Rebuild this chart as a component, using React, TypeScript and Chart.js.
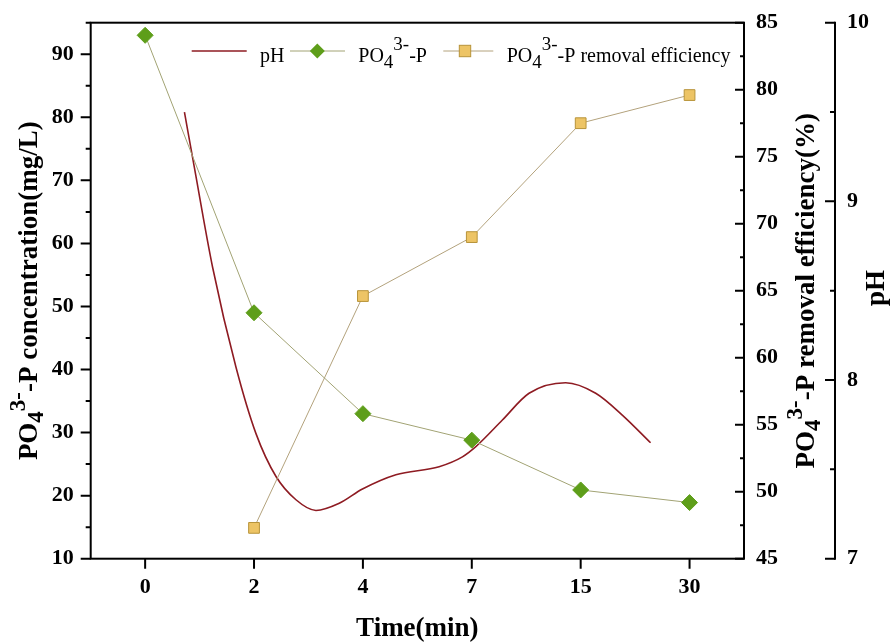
import React, { useEffect, useRef } from "react";
import { Chart, registerables } from "chart.js";

Chart.register(...registerables);

// ---- data ----
const timeLabels = ["0", "2", "4", "7", "15", "30"];
const po4Concentration = [93, 49, 33, 28.8, 20.9, 18.9];
const removalEfficiency = [null, 47.3, 64.6, 69.0, 77.5, 79.6];
// pH curve samples (x in category-index units, y = pH)
const phX = [0.361, 0.452, 0.62, 0.835, 1.018, 1.202, 1.385, 1.569, 1.783, 1.996, 2.303, 2.7, 2.914, 3.037, 3.281, 3.526, 3.862, 4.138, 4.382, 4.642];
const phY = [9.5, 9.19, 8.63, 8.07, 7.7, 7.46, 7.33, 7.27, 7.31, 7.39, 7.47, 7.515, 7.57, 7.627, 7.776, 7.926, 7.985, 7.926, 7.804, 7.649];

const FAMILY = '"Liberation Serif", "Times New Roman", serif';
const PH_COLOR = "#8E1B22";
const PO4_LINE = "#A2A374";
const PO4_FILL = "#5E9E1A";
const EFF_LINE = "#B3A27C";
const EFF_FILL = "#EDC465";
const EFF_BORDER = "#B8943A";

type Seg = { t: string; s: number; dy: number };

function segWidth(ctx: CanvasRenderingContext2D, segs: Seg[], weight: string) {
  let w = 0;
  for (const g of segs) {
    ctx.font = `${weight} ${g.s}px ${FAMILY}`;
    w += ctx.measureText(g.t).width;
  }
  return w;
}

function drawSegs(ctx: CanvasRenderingContext2D, segs: Seg[], x: number, y: number, weight: string) {
  let cx = x;
  ctx.textBaseline = "alphabetic";
  ctx.textAlign = "left";
  for (const g of segs) {
    ctx.font = `${weight} ${g.s}px ${FAMILY}`;
    ctx.fillText(g.t, cx, y + g.dy);
    cx += ctx.measureText(g.t).width;
  }
}

function drawRotatedTitle(ctx: CanvasRenderingContext2D, segs: Seg[], baseX: number, centerY: number) {
  ctx.save();
  ctx.translate(baseX, centerY);
  ctx.rotate(-Math.PI / 2);
  const w = segWidth(ctx, segs, "bold");
  drawSegs(ctx, segs, -w / 2, 0, "bold");
  ctx.restore();
}

function range(a: number, b: number, step: number) {
  const out: number[] = [];
  for (let v = a; v <= b + 1e-9; v += step) out.push(Math.round(v * 1000) / 1000);
  return out;
}

function noPad(s: any) {
  s.paddingTop = 0;
  s.paddingBottom = 0;
  s.paddingLeft = 0;
  s.paddingRight = 0;
}

const decorPlugin = {
  id: "decor",
  afterDraw(chart: any) {
    const ctx: CanvasRenderingContext2D = chart.ctx;
    const ca = chart.chartArea;
    const sx = chart.scales.x;
    const sy = chart.scales.y;
    const se = chart.scales.yEff;
    const sp = chart.scales.yPH;
    ctx.save();
    ctx.strokeStyle = "#000";
    ctx.lineWidth = 2;
    ctx.lineCap = "butt";
    // frame
    ctx.strokeRect(ca.left, ca.top, ca.right - ca.left, ca.bottom - ca.top);
    // pH axis line
    const px = sp.left;
    ctx.beginPath();
    ctx.moveTo(px, ca.top - 1);
    ctx.lineTo(px, ca.bottom + 1);
    ctx.stroke();

    ctx.beginPath();
    // left ticks
    for (const v of range(10, 95, 5)) {
      const y = sy.getPixelForValue(v);
      const len = v % 10 === 0 ? 10 : 5;
      ctx.moveTo(ca.left - len, y);
      ctx.lineTo(ca.left, y);
    }
    // bottom ticks
    for (let i = 0; i < timeLabels.length; i++) {
      const x = sx.getPixelForValue(i);
      ctx.moveTo(x, ca.bottom);
      ctx.lineTo(x, ca.bottom + 10);
    }
    // efficiency ticks (inward)
    for (const v of range(45, 85, 2.5)) {
      const y = se.getPixelForValue(v);
      const len = v % 5 === 0 ? 9 : 4;
      ctx.moveTo(ca.right - len, y);
      ctx.lineTo(ca.right, y);
    }
    // pH ticks (to the left)
    for (const v of range(7, 10, 0.5)) {
      const y = sp.getPixelForValue(v);
      const len = v % 1 === 0 ? 10 : 5;
      ctx.moveTo(px - len, y);
      ctx.lineTo(px, y);
    }
    ctx.stroke();

    // titles
    ctx.fillStyle = "#000";
    const T = 27;
    const S = 23;
    drawRotatedTitle(
      ctx,
      [
        { t: "PO", s: T, dy: 0 },
        { t: "4", s: S, dy: 6 },
        { t: "3-", s: S, dy: -12 },
        { t: "-P concentration(mg/L)", s: T, dy: 0 },
      ],
      37,
      (ca.top + ca.bottom) / 2
    );
    drawRotatedTitle(
      ctx,
      [
        { t: "PO", s: T, dy: 0 },
        { t: "4", s: S, dy: 6 },
        { t: "3-", s: S, dy: -12 },
        { t: "-P removal efficiency(%)", s: T, dy: 0 },
      ],
      814,
      (ca.top + ca.bottom) / 2
    );
    drawRotatedTitle(ctx, [{ t: "pH", s: T, dy: 0 }], 884, 288);
    {
      const segs = [{ t: "Time(min)", s: T, dy: 0 }];
      const w = segWidth(ctx, segs, "bold");
      drawSegs(ctx, segs, (ca.left + ca.right) / 2 - w / 2, 636, "bold");
    }

    // legend
    const ly = 51;
    const tb = 61.7;
    const L = 20;
    const LS = 19;
    // pH
    ctx.strokeStyle = PH_COLOR;
    ctx.lineWidth = 1.6;
    ctx.beginPath();
    ctx.moveTo(191.7, ly);
    ctx.lineTo(246.7, ly);
    ctx.stroke();
    drawSegs(ctx, [{ t: "pH", s: L, dy: 0 }], 260, tb, "normal");
    // PO4
    ctx.strokeStyle = PO4_LINE;
    ctx.lineWidth = 1;
    ctx.beginPath();
    ctx.moveTo(290, ly);
    ctx.lineTo(345, ly);
    ctx.stroke();
    ctx.fillStyle = PO4_FILL;
    ctx.beginPath();
    const dx = 317.3;
    ctx.moveTo(dx - 7.5, ly);
    ctx.lineTo(dx, ly - 7.5);
    ctx.lineTo(dx + 7.5, ly);
    ctx.lineTo(dx, ly + 7.5);
    ctx.closePath();
    ctx.fill();
    ctx.fillStyle = "#000";
    drawSegs(
      ctx,
      [
        { t: "PO", s: L, dy: 0 },
        { t: "4", s: LS, dy: 6.5 },
        { t: "3-", s: LS, dy: -11.5 },
        { t: "-P", s: L, dy: 0 },
      ],
      358.3,
      tb,
      "normal"
    );
    // efficiency
    ctx.strokeStyle = EFF_LINE;
    ctx.lineWidth = 1;
    ctx.beginPath();
    ctx.moveTo(443.3, ly);
    ctx.lineTo(493.3, ly);
    ctx.stroke();
    ctx.fillStyle = EFF_FILL;
    ctx.strokeStyle = EFF_BORDER;
    ctx.fillRect(465 - 5.7, ly - 5.7, 11.4, 11.4);
    ctx.strokeRect(465 - 5.7, ly - 5.7, 11.4, 11.4);
    ctx.fillStyle = "#000";
    drawSegs(
      ctx,
      [
        { t: "PO", s: L, dy: 0 },
        { t: "4", s: LS, dy: 6.5 },
        { t: "3-", s: LS, dy: -11.5 },
        { t: "-P removal efficiency", s: L, dy: 0 },
      ],
      506.7,
      tb,
      "normal"
    );
    ctx.restore();
  },
};

const tickFont = { family: FAMILY, size: 22, weight: "bold" as const };

export default function App() {
  const ref = useRef<HTMLCanvasElement | null>(null);
  useEffect(() => {
    if (!ref.current) return;
    const po4Data = po4Concentration.map((y, i) => ({ x: i, y }));
    const effData = removalEfficiency
      .map((y, i) => ({ x: i, y }))
      .filter((p) => p.y !== null) as { x: number; y: number }[];
    const phData = phX.map((x, i) => ({ x, y: phY[i] }));
    const chart = new Chart(ref.current, {
      type: "line",
      data: {
        datasets: [
          {
            label: "PO4",
            data: po4Data,
            yAxisID: "y",
            borderColor: PO4_LINE,
            borderWidth: 1,
            pointStyle: "rectRot",
            pointRadius: 8,
            pointBackgroundColor: PO4_FILL,
            pointBorderColor: PO4_FILL,
            pointBorderWidth: 1,
            fill: false,
            tension: 0,
          },
          {
            label: "eff",
            data: effData,
            yAxisID: "yEff",
            borderColor: EFF_LINE,
            borderWidth: 1,
            pointStyle: "rect",
            pointRadius: 7.6,
            pointBackgroundColor: EFF_FILL,
            pointBorderColor: EFF_BORDER,
            pointBorderWidth: 1,
            fill: false,
            tension: 0,
          },
          {
            label: "pH",
            data: phData,
            yAxisID: "yPH",
            borderColor: PH_COLOR,
            borderWidth: 1.6,
            pointRadius: 0,
            cubicInterpolationMode: "monotone",
            fill: false,
          },
        ] as any,
      },
      options: {
        animation: false,
        responsive: false,
        maintainAspectRatio: false,
        layout: { padding: { top: 22.7, left: 0, right: 0, bottom: 0 } },
        plugins: { legend: { display: false }, tooltip: { enabled: false } },
        scales: {
          x: {
            type: "linear",
            position: "bottom",
            min: -0.5,
            max: 5.5,
            afterBuildTicks: (s: any) => {
              s.ticks = timeLabels.map((_, i) => ({ value: i }));
            },
            afterFit: (s: any) => {
              s.height = 83.3;
              noPad(s);
            },
            ticks: {
              callback: (v: any) => timeLabels[Math.round(Number(v))] ?? "",
              font: tickFont,
              color: "#000",
              padding: 15,
              autoSkip: false,
              maxRotation: 0,
            },
            grid: { display: false, drawTicks: false },
            border: { display: false },
          },
          y: {
            type: "linear",
            position: "left",
            min: 10,
            max: 95,
            afterBuildTicks: (s: any) => {
              s.ticks = range(10, 90, 10).map((value) => ({ value }));
            },
            afterFit: (s: any) => {
              s.width = 90.7;
              noPad(s);
            },
            ticks: { font: tickFont, color: "#000", padding: 17 },
            grid: { display: false, drawTicks: false },
            border: { display: false },
          },
          yEff: {
            type: "linear",
            position: "right",
            weight: 0,
            min: 45,
            max: 85,
            afterBuildTicks: (s: any) => {
              s.ticks = range(45, 85, 5).map((value) => ({ value }));
            },
            afterFit: (s: any) => {
              s.width = 91;
              noPad(s);
            },
            ticks: { font: tickFont, color: "#000", padding: 12 },
            grid: { display: false, drawTicks: false },
            border: { display: false },
          },
          yPH: {
            type: "linear",
            position: "right",
            weight: 1,
            min: 7,
            max: 10,
            afterBuildTicks: (s: any) => {
              s.ticks = range(7, 10, 1).map((value) => ({ value }));
            },
            afterFit: (s: any) => {
              s.width = 55;
              noPad(s);
            },
            ticks: { font: tickFont, color: "#000", padding: 12 },
            grid: { display: false, drawTicks: false },
            border: { display: false },
          },
        },
      } as any,
      plugins: [decorPlugin],
    });
    return () => chart.destroy();
  }, []);
  return (
    <div style={{ position: "absolute", left: 0, top: 0, width: 890, height: 642, background: "#fff" }}>
      <canvas ref={ref} width={890} height={642} style={{ display: "block", width: 890, height: 642 }} />
    </div>
  );
}
